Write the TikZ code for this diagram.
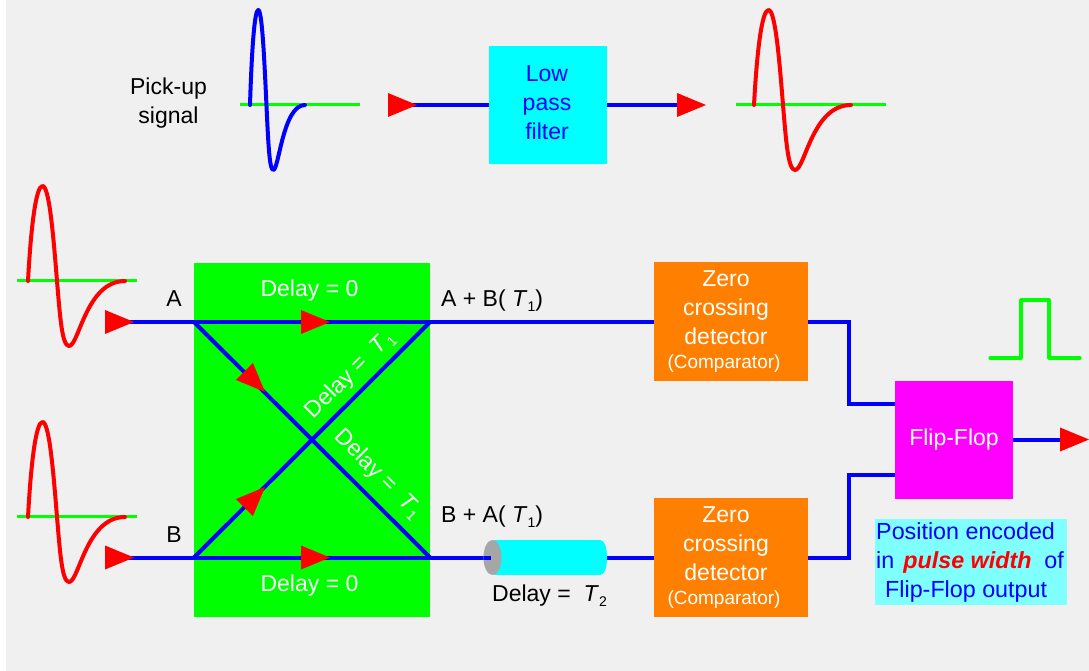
\documentclass[tikz,border=0pt]{standalone}
\usepackage{fontspec}
\setmainfont{Liberation Sans}
\usetikzlibrary{calc}
\definecolor{bggrey}{HTML}{F0F0F0}
\definecolor{wgreen}{HTML}{00FF00}
\definecolor{wblue}{HTML}{0000FF}
\definecolor{boxorange}{HTML}{FF8000}
\definecolor{noteblue}{HTML}{80FFFF}
\definecolor{boxcyan}{HTML}{00FFFF}
\definecolor{boxmagenta}{HTML}{FF00FF}
\definecolor{tipred}{HTML}{FF0000}
\definecolor{capgrey}{HTML}{A6A6A6}
\newcommand{\subT}[1]{\textit{T}\raisebox{-5pt}{\fontsize{14}{14}\selectfont #1}}
\newcommand{\zctext}{Zero\\crossing\\detector\\[-5pt]{\fontsize{19}{22}\selectfont\kern-4pt (Comparator)}}
\tikzset{
  x=1pt,y=-1pt,
  lab/.style={font=\fontsize{23}{29}\selectfont,inner sep=0pt,align=center},
  boxn/.style={lab,minimum width=#1,minimum height=118},
  wire/.style={draw=wblue,line width=4pt,line join=miter},
  axisl/.style={draw=wgreen,line width=3pt},
  wave/.style={line width=4pt,line cap=round,line join=round},
  pics/tipmark/.style={code={\fill[tipred] (-29,-12) -- (-29,12) -- (0,0) -- cycle;}},
  pics/pulsewave/.style={code={
    \draw[wave,#1] (0,0) .. controls (3,-55) and (8,-95) .. (14.5,-95)
      .. controls (21,-95) and (25,-50) .. (29,0)
      .. controls (32,35) and (34,65) .. (41,65)
      .. controls (51,65) and (58,0) .. (97,0);}},
}
\begin{document}
\begin{tikzpicture}
\useasboundingbox (0,0) rectangle (1089,671);
\fill[white] (0,0) rectangle (1089,671);
\fill[bggrey] (6,0) rectangle (1089,671);
% coordinates
\coordinate (pin) at (405,105);
\coordinate (pout) at (680,105);
\coordinate (ain) at (120,322);
\coordinate (bin) at (120,557.5);
\coordinate (ajl) at (194,322);
\coordinate (ajr) at (430,322);
\coordinate (bjl) at (194,557.5);
\coordinate (bjr) at (430,557.5);
\coordinate (cylL) at (491,557.5);
\coordinate (cylR) at (607,557.5);
\coordinate (fout) at (1065,439.5);
% boxes
\node[boxn=236,minimum height=354,fill=wgreen] (coupler) at (312,440) {};
\node[boxn=118,fill=boxcyan] (lpf) at (548,105) {};
\node[boxn=154,minimum height=119,fill=boxorange] (zc1) at (731,321.5) {};
\node[boxn=154,minimum height=119,fill=boxorange] (zc2) at (731,557.5) {};
\node[boxn=118,fill=boxmagenta,text=white] (ff) at (954,440) {Flip-Flop};
\node[lab,text=wblue] (lpft) at (547,102.5) {Low\\pass\\filter};
\node[lab,text=white] (zc1t) at (726,322) {\zctext};
\node[lab,text=white] (zc2t) at (726,558) {\zctext};
% wires
\draw[wire] (pin) -- (lpf.west |- pin);
\draw[wire] (lpf.east |- pout) -- (pout);
\draw[wire] (ain) -- (ajl) -- (ajr) -- (zc1.west |- ajr);
\draw[wire] (bin) -- (bjl) -- (bjr) -- (cylL);
\draw[wire] (ajl) -- (bjr);
\draw[wire] (bjl) -- (ajr);
\draw[wire] (cylR) -- (zc2.west |- cylR);
\draw[wire] (zc1.east |- ajr) -| (848.5,404) -- (ff.west |- 0,404);
\draw[wire] (zc2.east |- cylR) -| (848.5,475) -- (ff.west |- 0,475);
\draw[wire] (ff.east |- fout) -- (fout);
% delay line
\fill[boxcyan] (494,540) rectangle (600,575);
\fill[boxcyan] (600,540) .. controls (604,540) and (607,546) .. (607,557.5) .. controls (607,569) and (604,575) .. (600,575) -- cycle;
\fill[capgrey] (492.5,557.5) ellipse [x radius=9,y radius=17.5];
\draw[wire] (484,557.5) -- (cylL);
% waveforms
\draw[axisl] (240,105) -- (360,105);
\draw[axisl] (736,105) -- (886,105);
\draw[axisl] (17,280.5) -- (137,280.5);
\draw[axisl] (17,516.5) -- (137,516.5);
\pic[xscale=0.567] at (250,105) {pulsewave=wblue};
\pic at (754,105) {pulsewave=tipred};
\pic at (28,281) {pulsewave=tipred};
\pic at (28,517) {pulsewave=tipred};
\draw[line width=3.2pt,wgreen,line cap=round,line join=round] (990,358) -- (1021,358) -- (1021,300) -- (1049,300) -- (1049,358) -- (1080,358);
% arrowheads
\pic at (417,105) {tipmark};
\pic at (706,105) {tipmark};
\pic at (134,322) {tipmark};
\pic at (134,557.5) {tipmark};
\pic at (330,322) {tipmark};
\pic at (330,557.5) {tipmark};
\pic[rotate=-45] at (265,392) {tipmark};
\pic[rotate=45] at (265,487) {tipmark};
\pic at (1089,439.5) {tipmark};
% labels
\node[lab,anchor=base,text=black] (pickup) at (168.5,124) {Pick-up\\signal};
\node[lab,anchor=base] (la) at (174,306) {A};
\node[lab,anchor=base] (lb) at (174,542) {B};
\node[lab,anchor=base west] (lab1) at (441,306) {A + B( \subT{1})};
\node[lab,anchor=base west] (lab2) at (441,522) {B + A( \subT{1})};
\node[lab,anchor=base,text=white] (d0t) at (309.5,296) {Delay = 0};
\node[lab,anchor=base,text=white] (d0b) at (309.5,591) {Delay = 0};
\node[lab,anchor=center,text=white,rotate=45] (dt1) at (350,375) {Delay = \ \subT{1}};
\node[lab,anchor=center,text=white,rotate=-45] (dt2) at (378,474) {Delay = \ \subT{1}};
\node[lab,anchor=base west] (dt3) at (492,601) {Delay = \ \subT{2}};
% note
\fill[noteblue] (875,519) rectangle (1067,605);
\node[lab,anchor=base west,text=wblue,font=\fontsize{23.3}{29}\selectfont] (n1) at (876,539) {Position encoded};
\node[lab,anchor=base west,text=wblue,font=\fontsize{23.3}{29}\selectfont] (n2) at (876,568) {in\kern9pt{\color{tipred}\textbf{\textit{pulse width}}}\kern13pt of};
\node[lab,anchor=base west,text=wblue,font=\fontsize{23.3}{29}\selectfont] (n3) at (885,597) {Flip-Flop output};
\end{tikzpicture}
\end{document}
